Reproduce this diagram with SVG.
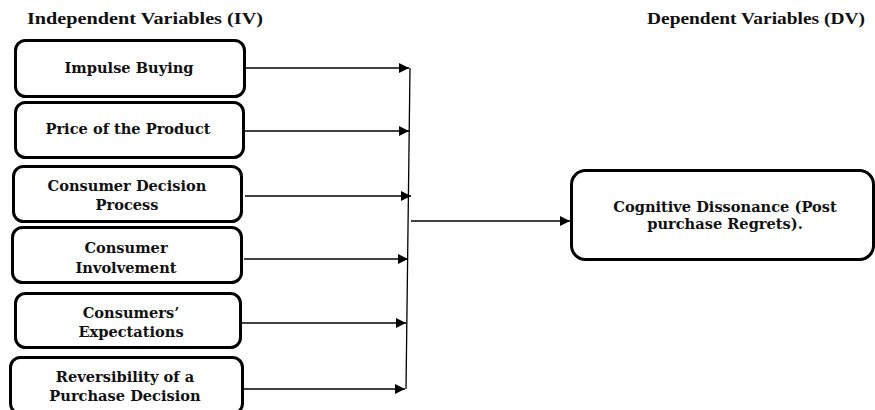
<svg xmlns="http://www.w3.org/2000/svg" width="875" height="410" viewBox="0 0 875 410">
<style>
.hdr{font-family:"Liberation Serif","Times New Roman",serif;font-weight:bold;font-size:16.5px;fill:#111}
.box{fill:#fff;stroke:#000;stroke-width:3}
.lbl{font-family:"DejaVu Serif","Liberation Serif",serif;font-weight:bold;font-size:14.6px;fill:#111;text-anchor:middle}
.con{stroke:#000;stroke-width:1.3;fill:none}
</style>
<defs>
<marker id="ah" viewBox="0 0 10 10" refX="10" refY="5" markerWidth="10" markerHeight="10" markerUnits="userSpaceOnUse" orient="auto">
<path d="M0,0 L10,5 L0,10 z" fill="#000"/>
</marker>
</defs>
<rect width="875" height="410" fill="#fff"/>
<text class="hdr" x="27" y="24" textLength="236" lengthAdjust="spacingAndGlyphs">Independent Variables (IV)</text>
<text class="hdr" x="647" y="24" textLength="218" lengthAdjust="spacingAndGlyphs">Dependent Variables (DV)</text>
<g id="n1"><rect class="box" x="15.5" y="40.5" width="229" height="56" rx="10"/><text class="lbl" x="129" y="73">Impulse Buying</text></g>
<g id="n2"><rect class="box" x="15.5" y="102.5" width="228" height="55" rx="10"/><text class="lbl" x="128" y="134">Price of the Product</text></g>
<g id="n3"><rect class="box" x="13.5" y="166.5" width="228" height="55" rx="10"/><text class="lbl" x="127" y="191">Consumer Decision</text><text class="lbl" x="127" y="210">Process</text></g>
<g id="n4"><rect class="box" x="12.5" y="227.5" width="229" height="55" rx="10"/><text class="lbl" x="126" y="253">Consumer</text><text class="lbl" x="126" y="273">Involvement</text></g>
<g id="n5"><rect class="box" x="15.5" y="293.5" width="225" height="54" rx="10"/><text class="lbl" x="131" y="318">Consumers’</text><text class="lbl" x="131" y="337">Expectations</text></g>
<g id="n6"><rect class="box" x="10.5" y="357.5" width="232" height="56" rx="10"/><text class="lbl" x="125" y="382">Reversibility of a</text><text class="lbl" x="125" y="401">Purchase Decision</text></g>
<g id="n7"><rect class="box" x="571.5" y="170.5" width="302" height="89" rx="14"/><text class="lbl" x="725" y="212">Cognitive Dissonance (Post</text><text class="lbl" x="725" y="229">purchase Regrets).</text></g>
<g id="connectors">
<line class="con" x1="245" y1="68" x2="409" y2="68" marker-end="url(#ah)"/>
<line class="con" x1="245" y1="131" x2="409" y2="131" marker-end="url(#ah)"/>
<line class="con" x1="245" y1="196" x2="411" y2="196" marker-end="url(#ah)"/>
<line class="con" x1="244" y1="259" x2="408" y2="259" marker-end="url(#ah)"/>
<line class="con" x1="242" y1="323" x2="406" y2="323" marker-end="url(#ah)"/>
<line class="con" x1="244" y1="389" x2="405" y2="389" marker-end="url(#ah)"/>
<line class="con" x1="410" y1="68" x2="406" y2="389"/>
<line class="con" x1="411" y1="221" x2="570" y2="221" marker-end="url(#ah)"/>
</g>
</svg>
